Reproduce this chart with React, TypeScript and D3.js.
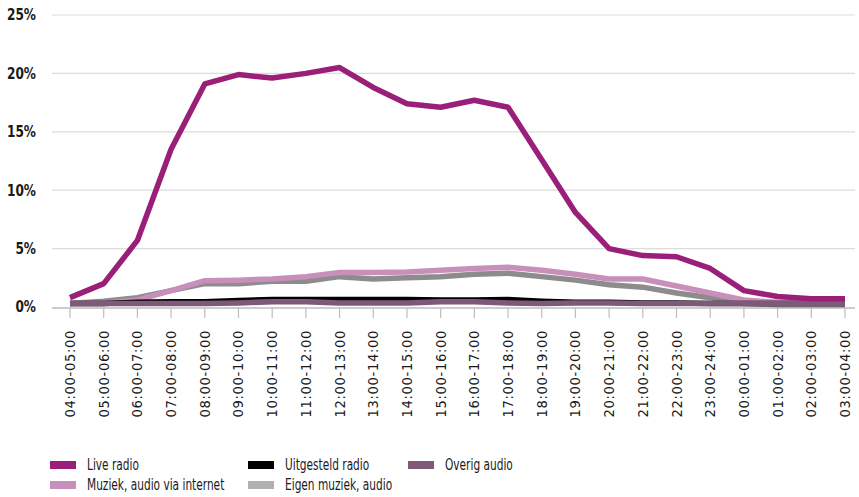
import React from "react";
import * as d3 from "d3";

const categories = [
  "04:00-05:00", "05:00-06:00", "06:00-07:00", "07:00-08:00", "08:00-09:00", "09:00-10:00",
  "10:00-11:00", "11:00-12:00", "12:00-13:00", "13:00-14:00", "14:00-15:00", "15:00-16:00",
  "16:00-17:00", "17:00-18:00", "18:00-19:00", "19:00-20:00", "20:00-21:00", "21:00-22:00",
  "22:00-23:00", "23:00-24:00", "00:00-01:00", "01:00-02:00", "02:00-03:00", "03:00-04:00",
];

const liveRadio = [0.8, 2.0, 5.7, 13.5, 19.1, 19.9, 19.6, 20.0, 20.5, 18.8, 17.4, 17.1, 17.7, 17.1, 12.6, 8.1, 5.0, 4.4, 4.3, 3.3, 1.4, 0.9, 0.7, 0.7];
const eigenMuziek = [0.3, 0.5, 0.8, 1.4, 2.0, 2.0, 2.2, 2.2, 2.6, 2.4, 2.5, 2.6, 2.8, 2.9, 2.6, 2.3, 1.9, 1.7, 1.2, 0.8, 0.3, 0.2, 0.2, 0.2];
const muziekInternet = [0.3, 0.3, 0.6, 1.4, 2.25, 2.3, 2.4, 2.6, 2.95, 2.95, 3.0, 3.15, 3.3, 3.4, 3.15, 2.8, 2.4, 2.4, 1.8, 1.2, 0.6, 0.4, 0.4, 0.4];
const uitgesteld = [0.3, 0.3, 0.4, 0.45, 0.45, 0.55, 0.65, 0.65, 0.65, 0.65, 0.65, 0.6, 0.6, 0.65, 0.5, 0.4, 0.4, 0.35, 0.35, 0.3, 0.3, 0.3, 0.3, 0.3];
const overigAudio = [0.3, 0.3, 0.3, 0.3, 0.3, 0.35, 0.45, 0.45, 0.35, 0.35, 0.35, 0.45, 0.45, 0.35, 0.3, 0.35, 0.35, 0.3, 0.3, 0.3, 0.3, 0.3, 0.3, 0.3];

const yTicks = [0, 5, 10, 15, 20, 25];

const seriesNames = ["Live radio", "Muziek, audio via internet", "Uitgesteld radio", "Eigen muziek, audio", "Overig audio"];

const FONT = "'DejaVu Sans Condensed', 'DejaVu Sans', sans-serif";

export default function App() {
  const W = 859, H = 497;
  const x = d3.scalePoint<string>().domain(categories).range([70, 845]);
  const y = d3.scaleLinear().domain([0, 25]).range([307, 15]);
  const line = (vals: number[]) =>
    d3.line<number>().x((_, i) => x(categories[i]) as number).y((v) => y(v)).curve(d3.curveLinear)(vals) || "";

  const drawOrder = [
    { name: seriesNames[3], data: eigenMuziek, color: "#8c8c8c" },
    { name: seriesNames[1], data: muziekInternet, color: "#c98fbb" },
    { name: seriesNames[2], data: uitgesteld, color: "#000000" },
    { name: seriesNames[4], data: overigAudio, color: "#7e5a78" },
    { name: seriesNames[0], data: liveRadio, color: "#9a1f79" },
  ];

  const legend = [
    { name: seriesNames[0], color: "#9a1f79", x: 50, y: 465 },
    { name: seriesNames[1], color: "#c98fbb", x: 50, y: 485 },
    { name: seriesNames[2], color: "#000000", x: 248, y: 465 },
    { name: seriesNames[3], color: "#b0b0b0", x: 248, y: 485 },
    { name: seriesNames[4], color: "#7e5a78", x: 408, y: 465 },
  ];

  return (
    <svg width={W} height={H} style={{ position: "absolute", left: 0, top: 0, background: "#fff" }} fontFamily={FONT}>
      {yTicks.map((t) => (
        <g key={t}>
          {t > 0 && <line x1={52} x2={855} y1={y(t)} y2={y(t)} stroke="#dcdcdc" strokeWidth={1.2} />}
          <text
            transform={`translate(36,${y(t)}) scale(0.9,1)`}
            dy="0.36em"
            textAnchor="end"
            fontSize={15}
            fontWeight="bold"
            fill="#1a1a1a"
          >
            {t}%
          </text>
        </g>
      ))}
      <line x1={52} x2={855} y1={y(0) + 1} y2={y(0) + 1} stroke="#bdbdbd" strokeWidth={1.5} />
      {categories.map((c) => (
        <g key={c}>
          <line x1={x(c)} x2={x(c)} y1={308} y2={318} stroke="#bdbdbd" strokeWidth={1.2} />
          <text
            transform={`translate(${(x(c) as number) + 5},330) rotate(-90)`}
            textAnchor="end"
            fontSize={14.5}
            letterSpacing={0.7}
            fill="#1a1a1a"
          >
            {c}
          </text>
        </g>
      ))}
      {drawOrder.map((s) => (
        <path key={s.name} d={line(s.data)} fill="none" stroke={s.color} strokeWidth={5.5} strokeLinejoin="round" />
      ))}
      {legend.map((l) => (
        <g key={l.name}>
          <rect x={l.x} y={l.y - 4} width={26} height={8} fill={l.color} />
          <text transform={`translate(${l.x + 37},${l.y}) scale(0.76,1)`} dy="0.35em" fontSize={15.5} fill="#1a1a1a">
            {l.name}
          </text>
        </g>
      ))}
    </svg>
  );
}
